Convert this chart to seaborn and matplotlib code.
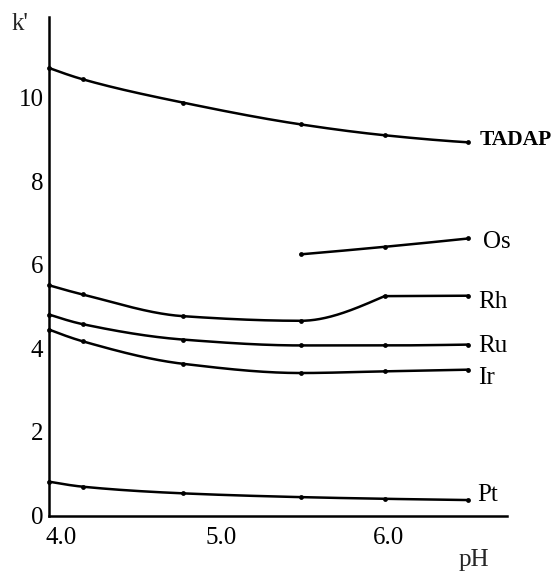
import numpy as np
import pandas as pd
import matplotlib
matplotlib.use("Agg")
import matplotlib.pyplot as plt
import matplotlib.transforms as mtransforms
import seaborn as sns

# pH values at which k' was measured
ph = [4.0, 4.2, 4.8, 5.5, 6.0, 6.5]
ph_os = [5.5, 6.0, 6.5]

# capacity factors k'
k_tadap = [10.71, 10.44, 9.88, 9.36, 9.10, 8.93]
k_os = [6.25, 6.43, 6.63]
k_rh = [5.51, 5.29, 4.77, 4.66, 5.25, 5.26]
k_ru = [4.81, 4.58, 4.21, 4.07, 4.07, 4.09]
k_ir = [4.45, 4.17, 3.63, 3.41, 3.45, 3.49]
k_pt = [0.81, 0.69, 0.53, 0.44, 0.40, 0.37]

series_names = ["TADAP", "Os", "Rh", "Ru", "Ir", "Pt"]
x_ticks = [4.0, 5.0, 6.0]
x_tick_labels = ["4.0", "5.0", "6.0"]
x_minor = [4.5, 5.5, 6.5]
y_ticks = [0, 2, 4, 6, 8, 10]


def pchip_curve(x, y, n=120):
    """Shape-preserving cubic path through the measured points."""
    x = np.asarray(x, float)
    y = np.asarray(y, float)
    h = np.diff(x)
    d = np.diff(y) / h
    m = np.zeros_like(x)
    if len(x) == 2:
        m[:] = d[0]
    else:
        for k in range(1, len(x) - 1):
            if d[k - 1] * d[k] <= 0:
                m[k] = 0.0
            else:
                w1 = 2 * h[k] + h[k - 1]
                w2 = h[k] + 2 * h[k - 1]
                m[k] = (w1 + w2) / (w1 / d[k - 1] + w2 / d[k])

        def end(h0, h1, d0, d1):
            v = ((2 * h0 + h1) * d0 - h0 * d1) / (h0 + h1)
            if np.sign(v) != np.sign(d0):
                return 0.0
            if np.sign(d0) != np.sign(d1) and abs(v) > abs(3 * d0):
                return 3 * d0
            return v

        m[0] = end(h[0], h[1], d[0], d[1])
        m[-1] = end(h[-1], h[-2], d[-1], d[-2])
    xs, ys = [], []
    for i in range(len(x) - 1):
        t = np.linspace(0, 1, n)
        h00 = 2 * t**3 - 3 * t**2 + 1
        h10 = t**3 - 2 * t**2 + t
        h01 = -2 * t**3 + 3 * t**2
        h11 = t**3 - t**2
        xs.append(x[i] + t * h[i])
        ys.append(h00 * y[i] + h10 * h[i] * m[i] + h01 * y[i + 1] + h11 * h[i] * m[i + 1])
    return np.concatenate(xs), np.concatenate(ys)


sns.set_theme(style="white")
plt.rcParams["font.family"] = ["Liberation Serif", "DejaVu Serif"]
plt.rcParams["font.size"] = 18

fig = plt.figure(figsize=(5.56, 5.74), dpi=100)
ax = fig.add_axes([0.0881, 0.1019, 0.8239, 0.8685])

frames = []
for name, xs, ks in [("TADAP", ph, k_tadap), ("Os", ph_os, k_os), ("Rh", ph, k_rh),
                     ("Ru", ph, k_ru), ("Ir", ph, k_ir), ("Pt", ph, k_pt)]:
    frames.append(pd.DataFrame({"pH": xs, "k": ks, "ion": name}))
df = pd.concat(frames, ignore_index=True)

lw = 1.8
for name in series_names:
    sub = df[df["ion"] == name]
    xs = sub["pH"].to_numpy()
    ks = sub["k"].to_numpy()
    if name == "Rh":
        # rising branch meets a flat plateau at pH 6.0
        cx, cy = pchip_curve(xs[:5], ks[:5])
        ax.plot(cx, cy, color="black", lw=lw, solid_capstyle="round", clip_on=False)
        ax.plot(xs[4:], ks[4:], color="black", lw=lw, clip_on=False)
    else:
        cx, cy = pchip_curve(xs, ks)
        ax.plot(cx, cy, color="black", lw=lw, clip_on=False)

sns.scatterplot(data=df, x="pH", y="k", ax=ax, color="black", s=12,
                edgecolor="black", linewidth=0, legend=False, clip_on=False, zorder=5)

# series labels at the right-hand ends
label_pos = {
    "TADAP": (6.565, 8.99, "bold", 15.5),
    "Os": (6.585, 6.55, "normal", 18),
    "Rh": (6.56, 5.11, "normal", 18),
    "Ru": (6.56, 4.06, "normal", 18),
    "Ir": (6.555, 3.29, "normal", 18),
    "Pt": (6.555, 0.49, "normal", 18),
}
for name in series_names:
    x, y, wt, fs = label_pos[name]
    ax.text(x, y, name, ha="left", va="center", fontsize=fs, fontweight=wt,
            color="black", clip_on=False)

ax.set_xlim(4.0, 6.73)
ax.set_ylim(0, 11.93)
ax.set_xticks(x_ticks)
ax.set_xticklabels(x_tick_labels)
ax.set_xticks(x_minor, minor=True)
ax.set_yticks(y_ticks)
ax.set_yticklabels([str(v) for v in y_ticks])
ax.set_xlabel("")
ax.set_ylabel("")

for side in ["top", "right"]:
    ax.spines[side].set_visible(False)
for side in ["left", "bottom"]:
    ax.spines[side].set_visible(True)
    ax.spines[side].set_color("black")
    ax.spines[side].set_linewidth(1.8)

ax.tick_params(axis="both", which="both", direction="in", length=3, width=1.3,
               color="black", labelcolor="black", labelsize=18)
ax.tick_params(axis="x", which="major", pad=8)
ax.tick_params(axis="y", which="major", pad=4)

# nudge the first pH label off the corner
offset = mtransforms.ScaledTranslation(9 / 72, 0, fig.dpi_scale_trans)
first = ax.get_xticklabels()[0]
first.set_transform(first.get_transform() + offset)
for lab in ax.get_xticklabels()[1:]:
    lab.set_transform(lab.get_transform() + mtransforms.ScaledTranslation(3 / 72, 0, fig.dpi_scale_trans))

fig.text(12 / 556, (574 - 30) / 574, "k'", ha="left", va="baseline", fontsize=18)
fig.text(459 / 556, (574 - 566) / 574, "pH", ha="left", va="baseline", fontsize=18)

fig.patch.set_facecolor("white")
ax.set_facecolor("white")
fig.savefig("out.png", dpi=100, facecolor="white")
